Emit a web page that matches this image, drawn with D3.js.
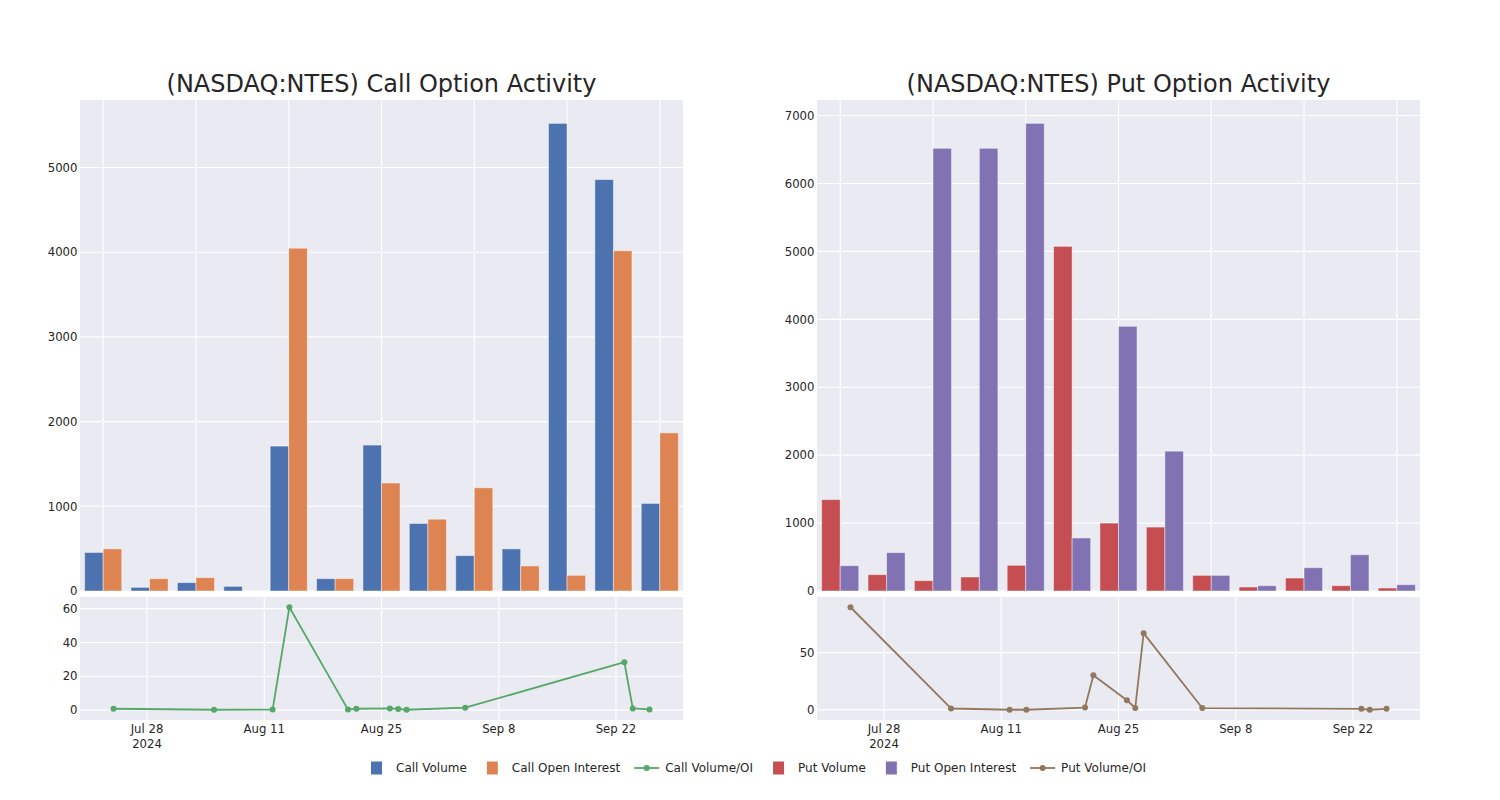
<!DOCTYPE html>
<html>
<head>
<meta charset="utf-8">
<script src="https://cdn.jsdelivr.net/npm/d3@7"></script>
<style>
  body { margin: 0; background: #ffffff; }
  svg { display: block; }
  text { font-family: "DejaVu Sans", sans-serif; fill: #262626; }
</style>
</head>
<body>
<svg id="chart" width="1500" height="800"></svg>
<script>
// ---------- data ----------
const dates = ["2024-07-24","2024-08-05","2024-08-12","2024-08-14","2024-08-21","2024-08-22","2024-08-26","2024-08-27","2024-08-28","2024-09-04","2024-09-23","2024-09-24","2024-09-26"];
const callVolume = [455, 43, 99, 55, 1711, 146, 1723, 797, 418, 497, 5521, 4858, 1034];
const callOpenInterest = [498, 146, 158, 0, 4047, 146, 1275, 848, 1219, 296, 185, 4017, 1867];
const callVolumeOI = [0.8, 0.2, 0.3, 60.8, 0.3, 0.8, 1.0, 0.7, 0.2, 1.4, 28.3, 1.0, 0.4];
const putVolume = [1346, 241, 152, 206, 378, 5074, 1000, 941, 230, 59, 191, 78, 44];
const putOpenInterest = [373, 565, 6518, 6518, 6885, 781, 3897, 2059, 230, 78, 343, 534, 93];
const putVolumeOI = [89.6, 1.2, 0.1, 0.1, 2.0, 30.3, 8.4, 1.7, 67.0, 1.6, 0.9, 0.1, 0.9];
const xTickDates = ["2024-07-28","2024-08-11","2024-08-25","2024-09-08","2024-09-22"];
const xTickLabels = [["Jul 28","2024"],["Aug 11"],["Aug 25"],["Sep 8"],["Sep 22"]];
const callTicks = [0, 1000, 2000, 3000, 4000, 5000];
const putTicks = [0, 1000, 2000, 3000, 4000, 5000, 6000, 7000];
const callRatioTicks = [0, 20, 40, 60];
const putRatioTicks = [0, 50];
const timeDomain = ["2024-07-20", "2024-09-30"];

const colors = {
  callVol: "#4C72B0", callOI: "#DD8452", callRatio: "#55A868",
  putVol: "#C44E52", putOI: "#8172B3", putRatio: "#937860"
};
const BG = "#EAEAF2";
const TICK_FS = "11.7px";
const parse = d3.utcParse("%Y-%m-%d");

const svg = d3.select("#chart");

function drawPanel(cfg) {
  const { left, right, title, vol, oi, ratio, volColor, oiColor, ratioColor, barTicks, ratioTicks } = cfg;
  const top1 = 100, bot1 = 591, top2 = 597, bot2 = 720;

  // ----- top bar panel -----
  const g = svg.append("g");
  g.append("rect").attr("x", left).attr("y", top1).attr("width", right - left).attr("height", bot1 - top1).attr("fill", BG);

  const x0 = d3.scaleBand().domain(dates).range([left, right]).padding(0);
  const keys = ["vol", "oi"];
  const x1 = d3.scaleBand().domain(keys).range([x0.bandwidth() * 0.1, x0.bandwidth() * 0.9]).padding(0);
  const yMax = d3.max(vol.concat(oi)) * 1.05;
  const y = d3.scaleLinear().domain([0, yMax]).range([bot1, top1]);

  g.selectAll(".hg").data(barTicks).enter().append("line")
    .attr("x1", left).attr("x2", right)
    .attr("y1", d => y(d)).attr("y2", d => y(d))
    .attr("stroke", "#fff").attr("stroke-width", 1.1);
  g.selectAll(".vg").data(dates.filter((d, i) => i % 2 === 0)).enter().append("line")
    .attr("x1", d => x0(d) + x0.bandwidth() / 2).attr("x2", d => x0(d) + x0.bandwidth() / 2)
    .attr("y1", top1).attr("y2", bot1)
    .attr("stroke", "#fff").attr("stroke-width", 1.1);

  g.selectAll(".yl").data(barTicks).enter().append("text")
    .attr("x", left - 2.5).attr("y", d => y(d)).attr("dy", "0.36em")
    .attr("text-anchor", "end").attr("font-size", TICK_FS)
    .text(d => d);

  const rows = dates.map((d, i) => ({ date: d, vol: vol[i], oi: oi[i] }));
  const cols = { vol: volColor, oi: oiColor };
  const grp = g.selectAll(".grp").data(rows).enter().append("g")
    .attr("transform", d => `translate(${x0(d.date)},0)`);
  grp.selectAll("rect").data(d => keys.map(k => ({ k, v: d[k] }))).enter().append("rect")
    .attr("x", d => x1(d.k)).attr("width", x1.bandwidth())
    .attr("y", d => y(d.v)).attr("height", d => bot1 - y(d.v))
    .attr("fill", d => cols[d.k])
    .attr("stroke", "#ffffff").attr("stroke-opacity", d => d.v > 0 ? 0.45 : 0).attr("stroke-width", 1);

  g.append("text").attr("x", (left + right) / 2).attr("y", 92)
    .attr("text-anchor", "middle").attr("font-size", "24px").text(title);

  // ----- bottom line panel -----
  const h = svg.append("g");
  h.append("rect").attr("x", left).attr("y", top2).attr("width", right - left).attr("height", bot2 - top2).attr("fill", BG);
  const xt = d3.scaleUtc().domain(timeDomain.map(parse)).range([left, right]);
  const rMin = d3.min(ratio), rMax = d3.max(ratio), pad = (rMax - rMin) * 0.1;
  const yr = d3.scaleLinear().domain([rMin - pad, rMax + pad]).range([bot2, top2]);

  h.selectAll(".hg").data(ratioTicks).enter().append("line")
    .attr("x1", left).attr("x2", right)
    .attr("y1", d => yr(d)).attr("y2", d => yr(d))
    .attr("stroke", "#fff").attr("stroke-width", 1.1);
  h.selectAll(".vg").data(xTickDates.map(parse)).enter().append("line")
    .attr("x1", d => xt(d)).attr("x2", d => xt(d))
    .attr("y1", top2).attr("y2", bot2)
    .attr("stroke", "#fff").attr("stroke-width", 1.1);

  h.selectAll(".yl").data(ratioTicks).enter().append("text")
    .attr("x", left - 2.5).attr("y", d => yr(d)).attr("dy", "0.36em")
    .attr("text-anchor", "end").attr("font-size", TICK_FS)
    .text(d => d);

  const xl = h.selectAll(".xl").data(xTickDates.map((d, i) => ({ d: parse(d), lines: xTickLabels[i] }))).enter()
    .append("text").attr("text-anchor", "middle").attr("font-size", TICK_FS)
    .attr("x", d => xt(d.d));
  xl.selectAll("tspan").data(d => d.lines.map(l => ({ l, x: xt(d.d) }))).enter().append("tspan")
    .attr("x", d => d.x).attr("y", (d, i) => 733 + i * 15).text(d => d.l);

  const pts = dates.map((d, i) => ({ d: parse(d), v: ratio[i] }));
  const line = d3.line().x(d => xt(d.d)).y(d => yr(d.v));
  h.append("path").datum(pts).attr("d", line).attr("fill", "none")
    .attr("stroke", ratioColor).attr("stroke-width", 1.8).attr("stroke-linejoin", "round");
  h.selectAll(".pt").data(pts).enter().append("circle")
    .attr("cx", d => xt(d.d)).attr("cy", d => yr(d.v)).attr("r", 3)
    .attr("fill", ratioColor);
}

drawPanel({
  left: 80, right: 683, title: "(NASDAQ:NTES) Call Option Activity",
  vol: callVolume, oi: callOpenInterest, ratio: callVolumeOI,
  volColor: colors.callVol, oiColor: colors.callOI, ratioColor: colors.callRatio,
  barTicks: callTicks, ratioTicks: callRatioTicks
});
drawPanel({
  left: 817, right: 1420, title: "(NASDAQ:NTES) Put Option Activity",
  vol: putVolume, oi: putOpenInterest, ratio: putVolumeOI,
  volColor: colors.putVol, oiColor: colors.putOI, ratioColor: colors.putRatio,
  barTicks: putTicks, ratioTicks: putRatioTicks
});

// ---------- legend ----------
const legendItems = [
  { label: "Call Volume", color: colors.callVol, type: "square" },
  { label: "Call Open Interest", color: colors.callOI, type: "square" },
  { label: "Call Volume/OI", color: colors.callRatio, type: "line" },
  { label: "Put Volume", color: colors.putVol, type: "square" },
  { label: "Put Open Interest", color: colors.putOI, type: "square" },
  { label: "Put Volume/OI", color: colors.putRatio, type: "line" }
];
const lg = svg.append("g");
const ly = 768;
let cx = 365;
legendItems.forEach(it => {
  const item = lg.append("g");
  if (it.type === "square") {
    item.append("rect").attr("x", cx + 6).attr("y", ly - 6.5).attr("width", 11).attr("height", 13).attr("fill", it.color);
  } else {
    item.append("line").attr("x1", cx).attr("x2", cx + 25).attr("y1", ly).attr("y2", ly)
      .attr("stroke", it.color).attr("stroke-width", 1.8);
    item.append("circle").attr("cx", cx + 12.5).attr("cy", ly).attr("r", 3).attr("fill", it.color);
  }
  const t = item.append("text").attr("x", cx + 31).attr("y", ly).attr("dy", "0.36em")
    .attr("font-size", "12px").text(it.label);
  const w = t.node().getComputedTextLength();
  cx = cx + 31 + w + 14;
});
</script>
</body>
</html>
